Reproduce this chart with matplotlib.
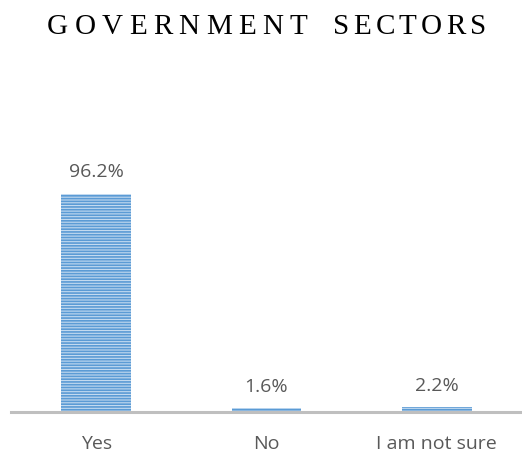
import matplotlib.pyplot as plt

categories = ["Yes", "No", "I am not sure"]
percent = [96.2, 1.6, 2.2]
value_labels = ["96.2%", "1.6%", "2.2%"]
title_words = ["GOVERNMENT", "SECTORS"]

plt.rcParams["hatch.linewidth"] = 1.2
plt.rcParams["hatch.color"] = "#5B9BD5"

fig = plt.figure(figsize=(5.22, 4.6), dpi=100)
ax = fig.add_axes([11 / 522, 47 / 460, 511 / 522, 227 / 460])

bars = ax.bar(categories, percent, width=0.41, color="#C3DAF0",
              edgecolor="#5B9BD5", hatch="------", linewidth=0)

for b, lab in zip(bars, value_labels):
    ax.annotate(lab, (b.get_x() + b.get_width() / 2, b.get_height()),
                xytext=(0, 12.5), textcoords="offset points", ha="center",
                va="baseline", fontsize=14, color="#595959", family="Open Sans")

ax.set_ylim(0, 100)
ax.set_xlim(-0.5, 2.5)
ax.set_yticks([])
for s in ["top", "right", "left"]:
    ax.spines[s].set_visible(False)
ax.spines["bottom"].set_color("#BFBFBF")
ax.spines["bottom"].set_linewidth(2.2)
ax.tick_params(axis="x", length=0, pad=16, labelsize=14, labelcolor="#595959")
for t in ax.get_xticklabels():
    t.set_family("Open Sans")

# letter-spaced title: each word spread over its own span in pixels
renderer = fig.canvas.get_renderer()
spans = [(47, 307), (333, 486)]
for word, (left_px, right_px) in zip(title_words, spans):
    chars = []
    for ch in word:
        t = fig.text(0, 1 - 33.5 / 460, ch, ha="left", va="baseline",
                     fontsize=21, family="Liberation Serif", color="#000000")
        chars.append((t, t.get_window_extent(renderer).width))
    gap = (right_px - left_px - sum(w for _, w in chars)) / (len(chars) - 1)
    x = left_px
    for t, w in chars:
        t.set_x(x / 522)
        x += w + gap

fig.savefig("out.png", dpi=100)
